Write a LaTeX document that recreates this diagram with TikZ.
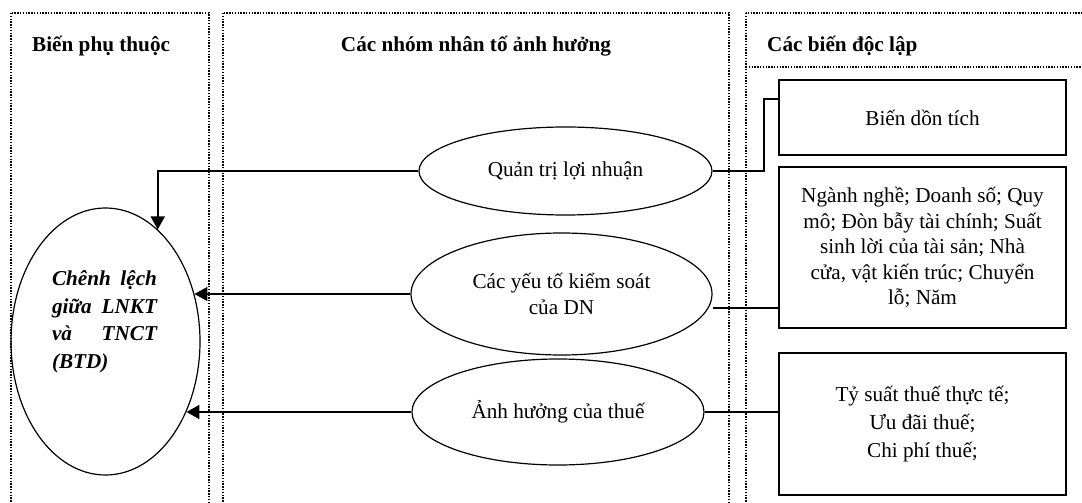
\documentclass[tikz,border=0pt]{standalone}
\usepackage{fontspec}
\setmainfont{Liberation Serif}
\usetikzlibrary{arrows.meta,shapes.geometric}
\newcommand\bodysize{\fontsize{21.2}{25.5}\selectfont}
\begin{document}
\begin{tikzpicture}[x=1pt,y=-1pt,
  panel/.style={line width=1.4pt, dash pattern=on 1.4pt off 1.4pt},
  grp/.style={ellipse, draw, line width=1.2pt, inner sep=0pt, align=center, font=\bodysize},
  var/.style={rectangle, draw, line width=1.8pt, inner sep=0pt, minimum width=287pt, align=center, font=\bodysize},
  link/.style={line width=1.8pt},
  arr/.style={link, -{Triangle[length=13pt,width=14pt]}},
  head/.style={font=\bodysize\bfseries, anchor=base west, inner sep=0pt}]

\clip (0,0) rectangle (1082,503);

% three column frames, open at the bottom
\draw[panel] (11,13) rectangle (209,530);
\draw[panel] (223,13) rectangle (729,530);
\draw[panel] (746,13) rectangle (1100,530);
\draw[panel] (746,67) -- (1100,67);

% column headings
\node[head] (h1) at (32,52) {Biến phụ thuộc};
\node[head, anchor=base] (h2) at (476,52) {Các nhóm nhân tố ảnh hưởng};
\node[head] (h3) at (767,52) {Các biến độc lập};

% dependent variable
\node[grp, minimum width=189pt, minimum height=267pt] (dep) at (105.5,341.5) {};
\node[font=\fontsize{21.2}{27.5}\selectfont\bfseries\itshape, inner sep=0pt, align=left] (deptext) at (104.5,322)
  {\makebox[105pt][s]{Chênh lệch}\\\makebox[105pt][s]{giữa LNKT}\\\makebox[105pt][s]{và TNCT}\\\makebox[105pt][l]{(BTD)}};

% groups of factors
\node[grp, minimum width=293pt, minimum height=88pt] (e1) at (565.5,171) {Quản trị lợi nhuận};
\node[grp, minimum width=301pt, minimum height=122pt] (e2) at (561.5,294) {Các yếu tố kiểm soát\\của DN};
\node[grp, minimum width=292pt, minimum height=106pt] (e3) at (558,412) {Ảnh hưởng của thuế};

% independent variables
\node[var, minimum height=75pt] (b1) at (922.5,117.5) {Biến dồn tích};
\node[var, minimum height=161pt] (b2) at (922.5,247.5)
  {Ngành nghề; Doanh số; Quy\\mô; Đòn bẫy tài chính; Suất\\sinh lời của tài sản; Nhà\\cửa, vật kiến trúc; Chuyển\\lỗ; Năm};
\node[var, minimum height=142pt, font=\fontsize{21.2}{28}\selectfont] (b3) at (922.5,424)
  {Tỷ suất thuế thực tế;\\Ưu đãi thuế;\\Chi phí thuế;};

% arrows into the dependent variable
\draw[arr] (e1.west) -| (dep.65.9);
\draw[arr] (e2.west) -- (e2.west -| dep.28.3);
\draw[arr] (e3.west) -- (e3.west -| dep.-41.9);

% links from the variables to the groups
\coordinate (j1) at (764,99);
\draw[link] (e1.east) -| (j1) -- (j1 -| b1.west);
\draw[link] ([yshift=-14pt]e2.east) -- ([yshift=-14pt]e2.east -| b2.west);
\draw[link] (e3.east) -- (e3.east -| b3.west);
\end{tikzpicture}
\end{document}
